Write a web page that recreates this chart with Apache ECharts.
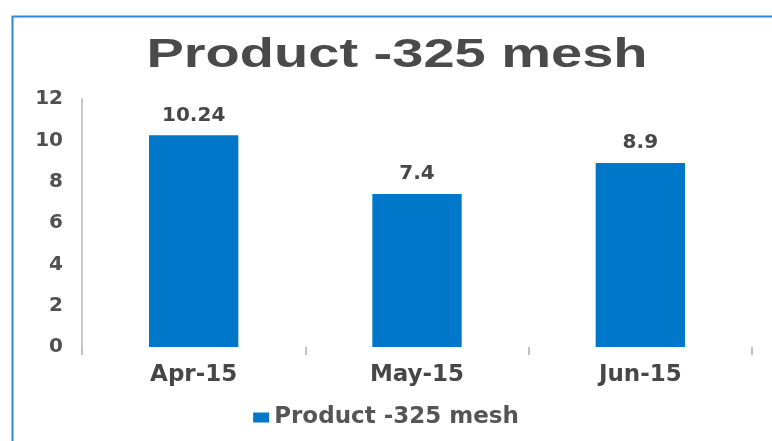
<!DOCTYPE html>
<html><head><meta charset="utf-8">
<script src="https://cdn.jsdelivr.net/npm/echarts@6/dist/echarts.min.js"></script>
<style>html,body{margin:0;padding:0;background:#fff}#c{width:772px;height:441px}</style>
</head><body><div id="c"></div>
<script>
const categories = ['Apr-15', 'May-15', 'Jun-15'];
const values = [10.24, 7.4, 8.9];
const seriesName = 'Product -325 mesh';
const titleText = 'Product -325 mesh';
const yTicks = [0, 2, 4, 6, 8, 10, 12];

const chart = echarts.init(document.getElementById('c'), null, {renderer: 'canvas'});
chart.setOption({
  animation: false,
  backgroundColor: '#fff',
  graphic: [{
    type: 'rect', left: 10, top: 14, z: -1,
    shape: {width: 900, height: 600},
    style: {fill: 'none', stroke: '#2E86D6', lineWidth: 2}
  }, {
    type: 'text', x: 397, y: 56, scaleX: 1.4, scaleY: 1,
    style: {
      text: titleText, x: 0, y: 0, align: 'center', verticalAlign: 'middle',
      font: 'bold 40px "Liberation Sans"', fill: '#4a4a4a'
    }
  }],
  legend: {
    bottom: 7, left: 'center', itemWidth: 16, itemHeight: 10, icon: 'rect', itemGap: 6,
    textStyle: {fontFamily: 'DejaVu Sans', fontWeight: 'bold', fontSize: 23, color: '#555555'},
    data: [seriesName]
  },
  grid: {left: 82, right: 20, top: 99, bottom: 94, containLabel: false},
  xAxis: {
    type: 'category', data: categories,
    axisLine: {show: false},
    axisTick: {show: true, length: 8, lineStyle: {color: '#c0c0c0', width: 2}},
    axisLabel: {margin: 17, fontFamily: 'DejaVu Sans', fontWeight: 'bold', fontSize: 23, color: '#474747'}
  },
  yAxis: {
    type: 'value', min: yTicks[0], max: yTicks[yTicks.length - 1], interval: yTicks[1] - yTicks[0],
    axisLine: {show: true, lineStyle: {color: '#c8c8c8', width: 2}},
    axisTick: {show: false},
    splitLine: {show: false},
    axisLabel: {margin: 19, fontFamily: 'DejaVu Sans', fontWeight: 'bold', fontSize: 20, color: '#505050'}
  },
  series: [{
    name: seriesName, type: 'bar', data: values, barWidth: '40%',
    itemStyle: {color: '#0077C8'},
    label: {show: true, position: 'top', distance: 10, fontFamily: 'DejaVu Sans', fontWeight: 'bold', fontSize: 20, color: '#474747'}
  }]
});
</script></body></html>
